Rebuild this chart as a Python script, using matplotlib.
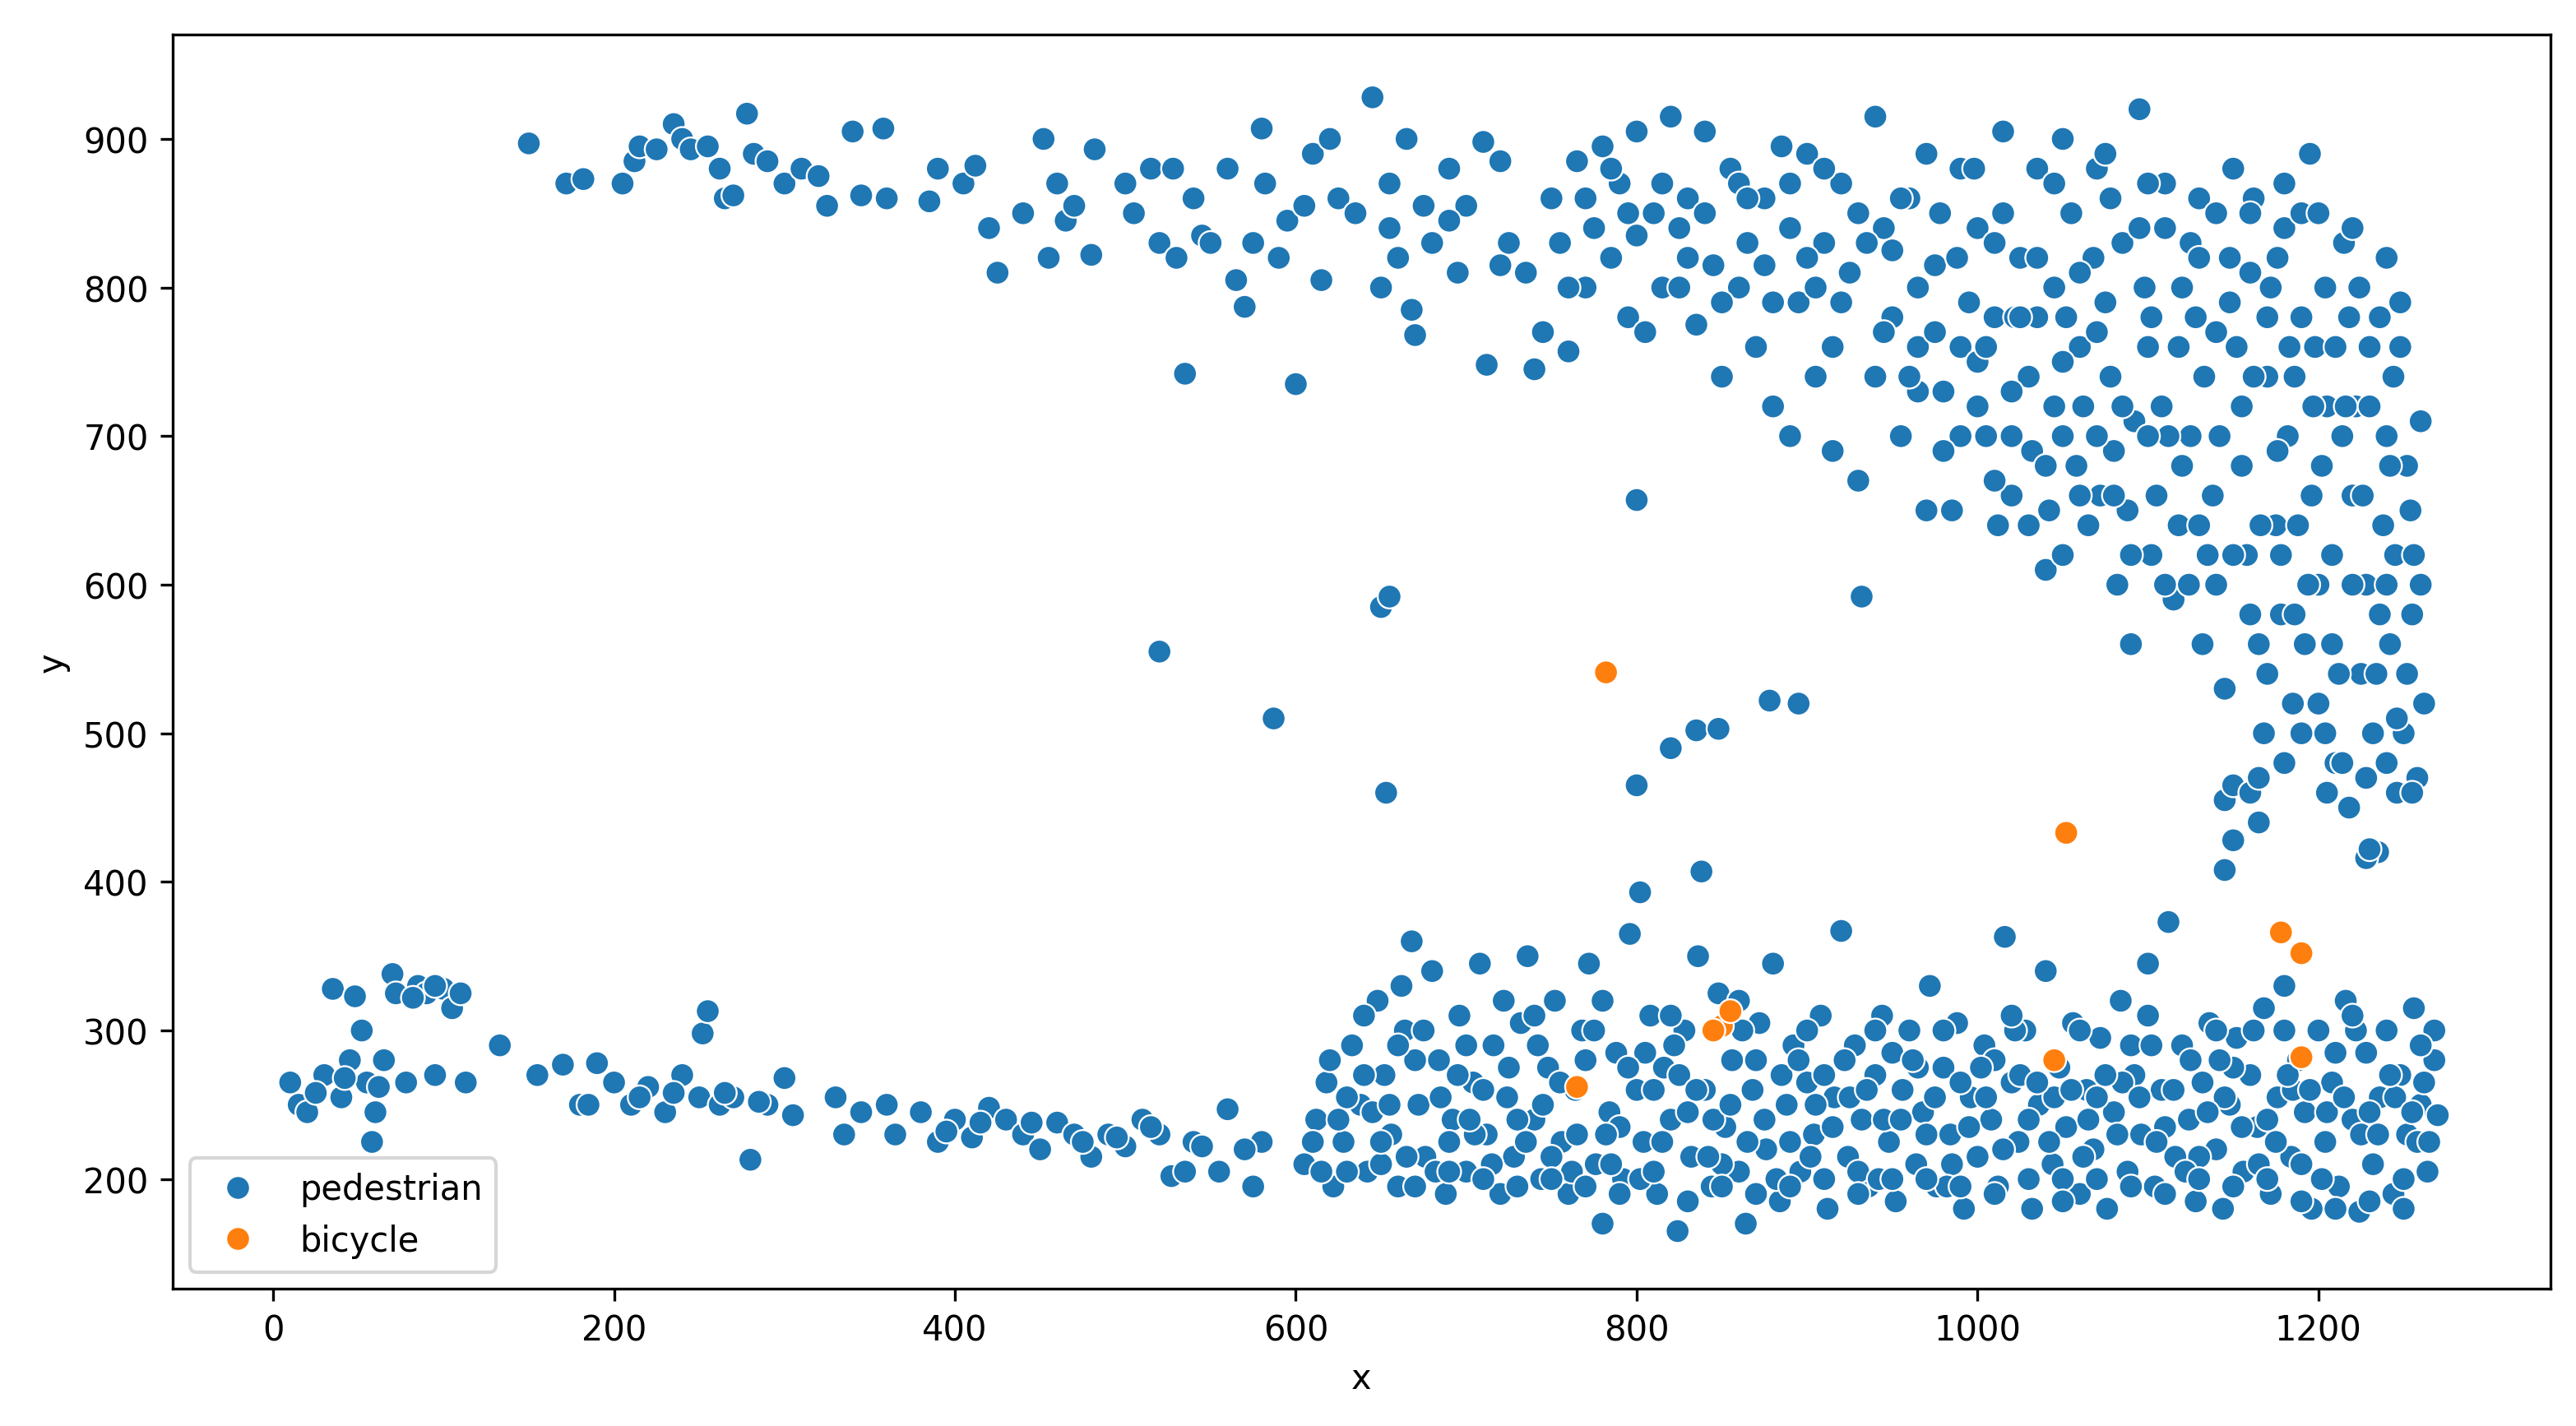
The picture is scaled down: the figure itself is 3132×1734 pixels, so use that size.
import matplotlib
matplotlib.use("Agg")
import matplotlib.pyplot as plt
import seaborn as sns
import pandas as pd

# pedestrian positions (approximate)
ped_top = [
    (150, 897), (172, 870), (182, 873), (205, 870), (212, 885), (215, 895), (225, 893), (235, 910), (240, 900),
    (245, 893), (255, 895), (262, 880), (265, 860), (270, 862), (278, 917), (282, 890), (290, 885), (300, 870),
    (310, 880), (320, 875), (325, 855), (340, 905), (345, 862), (358, 907), (360, 860), (385, 858), (390, 880),
    (405, 870), (412, 882), (420, 840), (425, 810), (440, 850), (452, 900), (455, 820), (460, 870), (465, 845),
    (470, 855), (480, 822), (482, 893), (500, 870), (505, 850), (515, 880), (520, 830), (528, 880), (530, 820),
    (535, 742), (540, 860), (545, 835), (550, 830), (560, 880), (565, 805), (570, 787), (575, 830), (580, 907),
    (582, 870), (590, 820), (595, 845), (600, 735), (605, 855), (610, 890), (615, 805), (620, 900), (625, 860),
    (635, 850), (645, 928), (650, 800), (655, 840), (660, 820), (665, 900), (668, 785), (670, 768), (675, 855),
    (680, 830), (690, 880), (695, 810), (700, 855), (710, 898), (712, 748), (720, 885), (725, 830), (735, 810),
    (740, 745), (745, 770), (750, 860), (755, 830), (760, 757), (765, 885), (770, 800), (775, 840), (780, 895),
    (785, 820), (790, 870), (795, 780), (800, 905), (805, 770), (810, 850), (815, 800), (820, 915), (825, 840),
    (830, 860), (835, 775), (840, 905), (845, 815), (850, 740), (855, 880), (860, 800), (865, 830), (870, 760),
    (875, 860), (880, 720), (885, 895), (890, 840), (895, 790), (900, 890), (905, 740), (910, 830), (915, 760),
    (920, 870), (925, 810), (930, 670), (940, 915), (945, 840), (950, 780), (955, 700), (960, 860), (965, 760),
    (970, 890), (975, 815), (980, 730), (985, 650), (990, 880), (995, 790), (1000, 840), (1005, 700), (1010, 780),
    (1015, 905), (1020, 660), (1025, 820), (1030, 740), (1035, 880), (1040, 610), (1045, 800), (1050, 700),
    (1055, 850), (1060, 760), (1065, 640), (1070, 880), (1075, 790), (1080, 690), (1085, 830), (1090, 560),
    (1095, 920), (1100, 760), (1105, 660), (1110, 840), (1115, 590), (1120, 800), (1125, 700), (1130, 860),
    (1135, 620), (1140, 770), (1145, 530), (1150, 880), (1155, 680), (1160, 810), (1165, 560), (1170, 740),
    (1175, 640), (1180, 840), (1185, 520), (1190, 780), (1195, 890), (1200, 600), (1205, 720), (1210, 480),
    (1215, 830), (1220, 660), (1225, 540), (1230, 760), (1235, 420), (1240, 700), (1245, 620), (1250, 500),
    (1255, 580), (1260, 710), (1262, 520), (1258, 470), (1248, 790),
    (655, 870), (690, 845), (720, 815), (760, 800), (795, 850), (830, 820), (860, 870), (880, 790), (905, 800),
    (930, 850), (950, 825), (965, 730), (990, 760), (1010, 830), (1020, 730), (1035, 780), (1045, 720),
    (1058, 680), (1068, 820), (1078, 740), (1088, 650), (1098, 800), (1108, 720), (1118, 640), (1128, 780),
    (1132, 560), (1142, 700), (1148, 820), (1158, 620), (1162, 740), (1168, 500), (1172, 800), (1178, 580),
    (1182, 700), (1188, 640), (1192, 560), (1198, 760), (1202, 680), (1208, 620), (1212, 540), (1218, 780),
    (1222, 720), (1228, 600), (1232, 500), (1238, 640), (1242, 560), (1246, 460), (1252, 680), (1256, 620),
    (1244, 740), (1236, 580), (1226, 660), (1214, 700), (1204, 500), (1196, 660), (1186, 740), (1176, 690),
    (1166, 640), (1152, 760), (1138, 660), (1124, 600), (1112, 700), (1102, 620), (1092, 710), (1082, 600),
    (1072, 660), (1062, 720), (1052, 780), (1042, 650), (1032, 690), (1022, 780), (1012, 640), (1000, 750),
    (975, 770), (940, 740), (915, 690), (890, 700),
    # extra density upper right
    (770, 860), (785, 880), (800, 835), (815, 870), (825, 800), (840, 850), (850, 790), (865, 860), (875, 815),
    (890, 870), (900, 820), (910, 880), (920, 790), (935, 830), (945, 770), (955, 860), (965, 800), (978, 850),
    (988, 820), (998, 880), (1005, 760), (1015, 850), (1025, 780), (1035, 820), (1045, 870), (1050, 750),
    (1060, 810), (1070, 770), (1078, 860), (1085, 720), (1095, 840), (1102, 780), (1110, 870), (1118, 760),
    (1125, 830), (1133, 740), (1140, 850), (1148, 790), (1155, 720), (1162, 860), (1170, 780), (1176, 820),
    (1183, 760), (1190, 850), (1197, 720), (1204, 800), (1210, 760), (1216, 720), (1224, 800), (1230, 720),
    (1236, 780), (1242, 680), (1248, 760), (1254, 650), (1260, 600), (1252, 540), (1246, 510), (1240, 600),
    (1234, 540), (1228, 470), (1220, 600), (1214, 480), (1208, 560), (1200, 520), (1194, 600), (1186, 580),
    (1178, 620), (1170, 540), (1160, 580), (1150, 620), (1140, 600), (1130, 640), (1120, 680), (1110, 600),
    (1100, 700), (1090, 620), (1080, 660), (1070, 700), (1060, 660), (1050, 620), (1040, 680), (1030, 640),
    (1020, 700), (1010, 670), (1000, 720), (990, 700), (980, 690), (970, 650), (960, 740), (1200, 850),
    (1220, 840), (1240, 820), (1180, 870), (1160, 850), (1130, 820), (1100, 870), (1075, 890), (1050, 900),
    (1165, 440), (1180, 480), (1190, 500), (1205, 460), (1218, 450), (1240, 480), (1255, 460),
    (520, 555), (587, 510), (650, 585), (655, 592), (653, 460), (800, 657), (800, 465), (802, 393), (820, 490),
    (835, 502), (848, 503), (838, 407), (878, 522), (895, 520), (932, 592), (1145, 408), (1150, 428),
    (1145, 455), (1150, 465), (1160, 460), (1165, 470), (1228, 416), (1230, 422),
]

ped_bottom = [
    (10, 265), (15, 250), (20, 245), (30, 270), (35, 328), (40, 255), (45, 280), (48, 323), (52, 300), (55, 265),
    (58, 225), (60, 245), (65, 280), (70, 338), (72, 325), (78, 265), (85, 330), (90, 325), (95, 270), (100, 328),
    (105, 315), (110, 325), (113, 265), (133, 290), (155, 270), (170, 277), (180, 250), (190, 278), (200, 265),
    (210, 250), (220, 262), (230, 245), (240, 270), (250, 255), (252, 298), (255, 313), (262, 250), (270, 255),
    (280, 213), (290, 250), (300, 268), (305, 243), (330, 255), (335, 230), (345, 245), (360, 250), (365, 230),
    (380, 245), (390, 225), (400, 240), (410, 228), (420, 248), (430, 240), (440, 230), (450, 220), (460, 238),
    (470, 230), (480, 215), (490, 230), (500, 222), (510, 240), (520, 230), (527, 202), (535, 205), (540, 225),
    (555, 205), (560, 247), (575, 195), (580, 225),
    (25, 258), (42, 268), (62, 262), (82, 322), (95, 330), (185, 250), (215, 255), (235, 258), (265, 258),
    (285, 252), (395, 232), (415, 238), (445, 238), (475, 225), (495, 228), (515, 235), (545, 222), (570, 220),
    (605, 210), (612, 240), (618, 265), (622, 195), (628, 225), (633, 290), (638, 250), (642, 205), (648, 320),
    (652, 270), (656, 230), (660, 195), (664, 300), (668, 360), (672, 250), (676, 215), (680, 340), (684, 280),
    (688, 190), (692, 240), (696, 310), (700, 205), (704, 265), (708, 345), (712, 230), (716, 290), (720, 190),
    (724, 255), (728, 215), (732, 305), (736, 350), (740, 240), (744, 200), (748, 275), (752, 320), (756, 225),
    (760, 190), (764, 260), (768, 300), (772, 345), (776, 210), (780, 170), (784, 245), (788, 285), (792, 200),
    (796, 365), (800, 260), (804, 225), (808, 310), (812, 190), (816, 275), (820, 240), (824, 165), (828, 300),
    (832, 215), (836, 350), (840, 260), (844, 195), (848, 325), (852, 235), (856, 280), (860, 205), (864, 170),
    (868, 260), (872, 305), (876, 220), (880, 345), (884, 185), (888, 250), (892, 290), (896, 205), (900, 265),
    (904, 230), (908, 310), (912, 180), (916, 255), (920, 367), (924, 215), (928, 290), (932, 240), (936, 195),
    (940, 270), (944, 310), (948, 225), (952, 185), (956, 260), (960, 300), (964, 210), (968, 245), (972, 330),
    (976, 195), (980, 275), (984, 230), (988, 305), (992, 180), (996, 255), (1000, 215), (1004, 290),
    (1008, 240), (1012, 195), (1016, 363), (1020, 265), (1024, 225), (1028, 300), (1032, 180), (1036, 250),
    (1040, 340), (1044, 210), (1048, 275), (1052, 235), (1056, 305), (1060, 190), (1064, 260), (1068, 220),
    (1072, 295), (1076, 180), (1080, 245), (1084, 320), (1088, 205), (1092, 270), (1096, 230), (1100, 345),
    (1104, 195), (1108, 260), (1112, 373), (1116, 215), (1120, 290), (1124, 240), (1128, 185), (1132, 265),
    (1136, 305), (1140, 220), (1144, 180), (1148, 250), (1152, 295), (1156, 205), (1160, 270), (1164, 235),
    (1168, 315), (1172, 190), (1176, 255), (1180, 330), (1184, 215), (1188, 280), (1192, 245), (1196, 180),
    (1200, 300), (1204, 225), (1208, 265), (1212, 195), (1216, 320), (1220, 240), (1224, 178), (1228, 285),
    (1232, 210), (1236, 255), (1240, 300), (1244, 190), (1248, 270), (1252, 230), (1256, 315), (1260, 250),
    (1264, 205), (1268, 280), (1270, 243),
    (610, 225), (630, 255), (650, 210), (670, 280), (690, 225), (710, 260), (730, 240), (750, 215), (770, 280),
    (790, 235), (810, 260), (830, 245), (850, 210), (870, 280), (890, 225), (910, 270), (930, 205), (950, 285),
    (970, 230), (990, 265), (1010, 280), (1030, 240), (1050, 200), (1070, 255), (1090, 290), (1110, 235),
    (1130, 215), (1150, 275), (1170, 240), (1190, 210), (1210, 285), (1230, 245), (1250, 200), (1262, 265),
    (620, 280), (645, 245), (665, 215), (685, 255), (705, 230), (725, 275), (745, 250), (765, 230), (785, 210),
    (805, 285), (825, 270), (845, 240), (865, 225), (885, 270), (905, 250), (925, 255), (945, 240), (965, 275),
    (985, 210), (1005, 255), (1025, 270), (1045, 255), (1065, 240), (1085, 265), (1105, 225), (1125, 280),
    (1145, 255), (1165, 210), (1185, 260), (1205, 245), (1225, 230), (1245, 255), (1258, 225),
    # extra density lower right
    (615, 205), (625, 240), (640, 270), (655, 250), (662, 330), (675, 300), (682, 205), (695, 270), (702, 240),
    (715, 210), (722, 320), (735, 225), (742, 290), (755, 265), (762, 205), (775, 300), (782, 230), (795, 275),
    (802, 200), (815, 225), (822, 290), (835, 260), (842, 215), (855, 250), (862, 300), (875, 240), (882, 200),
    (895, 280), (902, 215), (915, 235), (922, 280), (935, 260), (942, 200), (955, 240), (962, 280), (975, 255),
    (982, 195), (995, 235), (1002, 275), (1015, 220), (1022, 300), (1035, 265), (1042, 225), (1055, 260),
    (1062, 215), (1075, 270), (1082, 230), (1095, 255), (1102, 290), (1115, 260), (1122, 205), (1135, 245),
    (1142, 280), (1155, 235), (1162, 300), (1175, 225), (1182, 270), (1195, 260), (1202, 200), (1215, 255),
    (1222, 300), (1235, 230), (1242, 270), (1255, 245), (1265, 225), (1268, 300), (1250, 180), (1230, 185),
    (1210, 180), (1190, 185), (1170, 200), (1150, 195), (1130, 200), (1110, 190), (1090, 195), (1070, 200),
    (1050, 185), (1030, 200), (1010, 190), (990, 195), (970, 200), (950, 200), (930, 190), (910, 200),
    (890, 195), (870, 190), (850, 195), (830, 185), (810, 205), (790, 190), (770, 195), (750, 200), (730, 195),
    (710, 200), (690, 205), (670, 195), (650, 225), (630, 205), (640, 310), (660, 290), (700, 290), (740, 310),
    (780, 320), (820, 310), (860, 320), (900, 300), (940, 300), (980, 300), (1020, 310), (1060, 300),
    (1100, 310), (1140, 300), (1180, 300), (1220, 310), (1260, 290),
]

bike_x = [782, 1052, 1178, 1190, 850, 855, 845, 765, 1045, 1190]
bike_y = [541, 433, 366, 352, 303, 313, 300, 262, 280, 282]

ped_x = [p[0] for p in ped_top + ped_bottom]
ped_y = [p[1] for p in ped_top + ped_bottom]

df = pd.DataFrame({
    "x": ped_x + bike_x,
    "y": ped_y + bike_y,
    "class": ["pedestrian"] * len(ped_x) + ["bicycle"] * len(bike_x),
})

fig = plt.figure(figsize=(10.44, 5.783), dpi=300)
ax = fig.add_axes([0.067, 0.096, 0.923, 0.879])
sns.scatterplot(data=df, x="x", y="y", hue="class", s=48, ax=ax)
ax.set_xlim(-59, 1336)
ax.set_ylim(126, 970)
ax.legend(loc="lower left")
fig.savefig("out.png")
